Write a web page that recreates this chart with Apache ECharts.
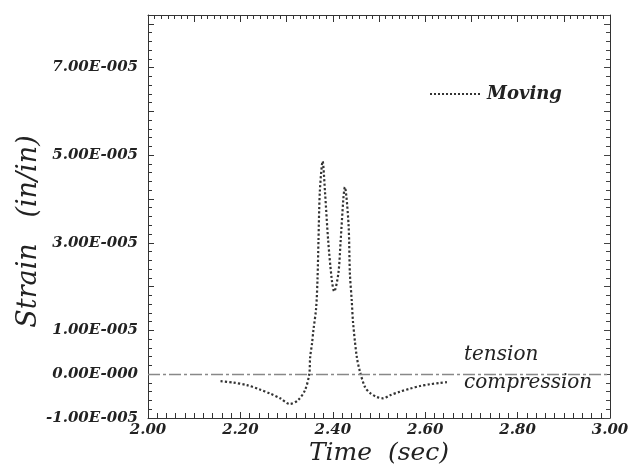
<!DOCTYPE html>
<html>
<head>
<meta charset="utf-8">
<script src="https://cdn.jsdelivr.net/npm/echarts@6/dist/echarts.min.js"></script>
<style>html,body{margin:0;padding:0;background:#fff}#c{width:634px;height:470px}</style>
</head>
<body>
<div id="c"></div>
<script>
// Time (sec)
const timeSec = [2.157, 2.184, 2.214, 2.242, 2.264, 2.286, 2.307, 2.325, 2.340, 2.349, 2.351, 2.355, 2.358, 2.364, 2.367, 2.369, 2.372, 2.378, 2.383, 2.390, 2.398, 2.403, 2.412, 2.417, 2.423, 2.426, 2.434, 2.437, 2.441, 2.444, 2.452, 2.459, 2.470, 2.481, 2.495, 2.509, 2.524, 2.545, 2.567, 2.589, 2.610, 2.632, 2.647];
// Strain (in/in)
const strainMoving = [-0.16e-5, -0.19e-5, -0.25e-5, -0.35e-5, -0.44e-5, -0.55e-5, -0.68e-5, -0.59e-5, -0.36e-5, 0.0, 0.39e-5, 0.7e-5, 1.0e-5, 1.52e-5, 2.2e-5, 3.05e-5, 4.18e-5, 4.86e-5, 4.18e-5, 3.05e-5, 2.14e-5, 1.89e-5, 2.30e-5, 3.05e-5, 4.02e-5, 4.27e-5, 3.43e-5, 2.30e-5, 1.68e-5, 1.16e-5, 0.39e-5, 0.05e-5, -0.30e-5, -0.43e-5, -0.52e-5, -0.55e-5, -0.48e-5, -0.40e-5, -0.33e-5, -0.27e-5, -0.23e-5, -0.20e-5, -0.18e-5];
const xTickLabels = ['2.00', '2.20', '2.40', '2.60', '2.80', '3.00'];
const yTickValues = [-1e-5, 0, 1e-5, 3e-5, 5e-5, 7e-5];
const yTickLabels = ['-1.00E-005', '0.00E-000', '1.00E-005', '3.00E-005', '5.00E-005', '7.00E-005'];
const seriesName = 'Moving';

const serif = '"DejaVu Serif", "Liberation Serif", serif';
const tickFont = {fontFamily: serif, fontStyle: 'italic', fontWeight: 'bold', fontSize: 15, color: '#222'};
const axisLine = {show: true, onZero: false, lineStyle: {color: '#333', width: 1}};

const chart = echarts.init(document.getElementById('c'), null, {renderer: 'canvas'});
chart.setOption({
  backgroundColor: '#fff',
  animation: false,
  grid: {left: 148, right: 24, top: 15, bottom: 52, containLabel: false, outerBoundsMode: 'none'},
  legend: {
    left: 424, top: 80, data: [seriesName], itemWidth: 52, itemHeight: 10,
    itemGap: 6,
    itemStyle: {opacity: 0},
    textStyle: {fontFamily: serif, fontStyle: 'italic', fontWeight: 'bold', fontSize: 18, color: '#222'}
  },
  xAxis: [{
    type: 'value', min: 2, max: 3, interval: 0.2,
    axisLine: axisLine,
    axisTick: {show: true, inside: true, length: 6, lineStyle: {color: '#333'}},
    minorTick: {show: true, splitNumber: 10, length: 5, lineStyle: {color: '#333'}},
    splitLine: {show: false},
    axisLabel: Object.assign({margin: 5, formatter: v => xTickLabels[Math.round((v - 2) / 0.2)] || ''}, tickFont),
    name: 'Time  (sec)', nameLocation: 'middle', nameGap: 23, nameMoveOverlap: false,
    nameTextStyle: {fontFamily: serif, fontStyle: 'italic', fontSize: 25, color: '#222'}
  }, {
    type: 'value', min: 2, max: 3, interval: 0.1, position: 'top',
    axisLine: axisLine,
    axisTick: {show: true, inside: true, length: 7, lineStyle: {color: '#333'}},
    minorTick: {show: true, splitNumber: 7, length: 4, lineStyle: {color: '#333'}},
    splitLine: {show: false}, axisLabel: {show: false}
  }],
  yAxis: [{
    type: 'value', min: -1e-5, max: 8.2e-5, interval: 1e-5,
    axisLine: axisLine,
    axisTick: {show: true, inside: true, length: 6, lineStyle: {color: '#333'}},
    minorTick: {show: true, splitNumber: 5, length: 4, lineStyle: {color: '#333'}},
    splitLine: {show: false},
    axisLabel: Object.assign({margin: 10, formatter: v => {
      const i = yTickValues.findIndex(t => Math.abs(t - v) < 1e-9);
      return i >= 0 ? yTickLabels[i] : '';
    }}, tickFont),
    name: 'Strain   (in/in)', nameLocation: 'middle', nameGap: 106, nameMoveOverlap: false,
    nameTextStyle: {fontFamily: serif, fontStyle: 'italic', fontSize: 27, color: '#222', padding: [0, 30, 0, 0]}
  }, {
    type: 'value', min: -1e-5, max: 8.2e-5, interval: 1e-5, position: 'right',
    axisLine: axisLine,
    axisTick: {show: true, inside: true, length: 6, lineStyle: {color: '#444'}},
    minorTick: {show: true, splitNumber: 5, length: 4, lineStyle: {color: '#444'}},
    splitLine: {show: false}, axisLabel: {show: false}
  }],
  series: [{
    name: seriesName, type: 'line', xAxisIndex: 0, yAxisIndex: 0,
    data: timeSec.map((t, i) => [t, strainMoving[i]]),
    showSymbol: false, symbol: 'none', smooth: 0.3,
    lineStyle: {color: '#333', width: 2.2, type: 'dotted'},
    itemStyle: {color: '#333'},
    markLine: {
      silent: true, symbol: 'none', label: {show: false},
      lineStyle: {color: '#888', width: 1.3, type: [12, 3, 3, 3]},
      data: [{yAxis: 0}]
    }
  }],
  graphic: [
    {type: 'text', left: 464, top: 345, style: {text: 'tension', font: 'italic 20px ' + serif, fill: '#222'}},
    {type: 'text', left: 464, top: 373, style: {text: 'compression', font: 'italic 20px ' + serif, fill: '#222'}}
  ]
});
</script>
</body>
</html>
